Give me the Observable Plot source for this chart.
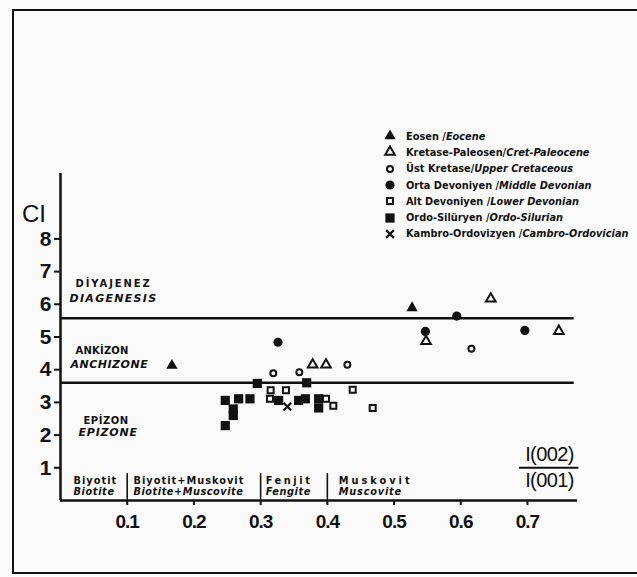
<!DOCTYPE html>
<html><head><meta charset="utf-8">
<script src="https://cdn.jsdelivr.net/npm/d3@7"></script>
<script src="https://cdn.jsdelivr.net/npm/@observablehq/plot@0.6"></script>
<style>
body{margin:0;background:#fafafa;}
#wrap{position:relative;width:637px;height:577px;overflow:hidden;background:#fafafa;}
#frame{position:absolute;left:12px;top:9px;width:640px;height:565px;border:2.5px solid #111;box-sizing:border-box;pointer-events:none}
#legend{position:absolute;left:383px;top:128px;font-family:"DejaVu Sans Condensed","DejaVu Sans",sans-serif;font-weight:bold;font-size:10.9px;color:#111;}
.row{height:16.3px;display:flex;align-items:center;white-space:nowrap}
.row svg{width:14px;height:14px;margin-right:9px;flex:none}
.row i{font-style:italic}
#ci{position:absolute;left:22px;top:200px;font-family:"Liberation Sans",sans-serif;font-size:24px;color:#111}
</style></head>
<body><div id="wrap"><div id="frame"></div><div id="ci">CI</div><div id="legend"></div></div>
<script>
// ---- data ----
const eocene      = [[0.167,4.13],[0.527,5.89]];
const cretPaleo   = [[0.378,4.15],[0.398,4.15],[0.645,6.17],[0.548,4.87],[0.747,5.18]];
const upperCret   = [[0.319,3.89],[0.358,3.92],[0.430,4.15],[0.616,4.64]];
const midDevon    = [[0.326,4.84],[0.594,5.64],[0.547,5.17],[0.696,5.20]];
const lowDevon    = [[0.315,3.37],[0.338,3.37],[0.314,3.11],[0.398,3.11],[0.409,2.90],[0.438,3.39],[0.468,2.83]];
const ordoSil     = [[0.295,3.58],[0.369,3.60],[0.247,3.06],[0.267,3.11],[0.284,3.11],[0.259,2.80],[0.259,2.60],[0.247,2.29],[0.327,3.06],[0.357,3.06],[0.367,3.11],[0.387,3.11],[0.387,2.83]];
const cambroOrd   = [[0.340,2.87]];
const legendTR = ["Eosen ","Kretase-Paleosen","Üst Kretase","Orta Devoniyen ","Alt Devoniyen ","Ordo-Silüryen ","Kambro-Ordovizyen "];
const legendEN = ["Eocene","Cret-Paleocene","Upper Cretaceous","Middle Devonian","Lower Devonian","Ordo-Silurian","Cambro-Ordovician"];
const boundaries = [5.57, 3.6];
const zoneTR = ["DİYAJENEZ","ANKİZON","EPİZON"];
const zoneEN = ["DIAGENESIS","ANCHIZONE","EPIZONE"];
const mineralStart = [0, 0.1, 0.3, 0.4];
const mineralTR = ["Biyotit","Biyotit+Muskovit","Fenjit","Muskovit"];
const mineralEN = ["Biotite","Biotite+Muscovite","Fengite","Muscovite"];
const xTicks = [0.1,0.2,0.3,0.4,0.5,0.6,0.7];
const yTicks = [1,2,3,4,5,6,7,8];
const xNum = "I(002)", xDen = "I(001)";

// ---- series styles ----
const ink = "#111";
const series = [
  {d:eocene,    symbol:"triangle", fill:ink,    stroke:"none", r:4.2, sw:0},
  {d:cretPaleo, symbol:"triangle", fill:"#fafafa", stroke:ink, r:3.6, sw:2},
  {d:upperCret, symbol:"circle",   fill:"#fafafa", stroke:ink, r:3.0, sw:2},
  {d:midDevon,  symbol:"circle",   fill:ink,    stroke:"none", r:4.6, sw:0},
  {d:lowDevon,  symbol:"square",   fill:"#fafafa", stroke:ink, r:3.4, sw:2},
  {d:ordoSil,   symbol:"square",   fill:ink,    stroke:"none", r:5.2, sw:0},
  {d:cambroOrd, symbol:"times",    fill:"none", stroke:ink, r:3.6, sw:2.2}
];

const zoneY = [[6.64,6.18],[4.59,4.16],[2.45,2.08]];
const zoneX = [[0.0225,0.0135],[0.0225,0.015],[0.0345,0.027]];
const minOff = [0.0195,0.0095,0.0075,0.017];
// letter spacing applied after render (by text content)
const spacing = new Map([
  ["DİYAJENEZ",1.9],["ANKİZON",0.2],["EPİZON",0.5],
  ["DIAGENESIS",1.3],["ANCHIZONE",0.5],["EPIZONE",0.8],
  ["Biyotit",1.0],["Biyotit+Muskovit",1.0],["Fenjit",2.6],["Muskovit",3.0],
  ["Biotite",0.6],["Biotite+Muscovite",0.5],["Fengite",0.6],["Muscovite",0.8],
  ["I(002)",-0.6],["I(001)",-0.6]
]);

const chart = Plot.plot({
  width:637, height:577,
  marginLeft:60, marginRight:60, marginTop:173, marginBottom:77,
  x:{domain:[0,0.775]}, y:{domain:[0,10]},
  style:{background:"transparent", fontFamily:"Liberation Sans, sans-serif", color:ink, overflow:"visible"},
  marks:[
    Plot.ruleY(boundaries,{x1:0,x2:0.77,stroke:ink,strokeWidth:2.5}),
    Plot.ruleX(mineralStart.slice(1),{y1:0,y2:0.82,stroke:ink,strokeWidth:1.6}),
    Plot.ruleX([0],{y1:0,y2:10,stroke:ink,strokeWidth:2.5}),
    Plot.ruleY([0],{x1:0,x2:0.775,stroke:ink,strokeWidth:2.5}),
    Plot.axisY({ticks:yTicks, tickSize:6, tickPadding:3, fontSize:21, fontWeight:"bold", label:null, tickFormat:d=>String(d), strokeWidth:2}),
    Plot.axisX({ticks:xTicks, tickSize:5, tickPadding:9, fontSize:19, fontWeight:"bold", label:null, tickFormat:d=>d.toFixed(1), strokeWidth:2}),
    ...series.map(s=>Plot.dot(s.d,{x:d=>d[0],y:d=>d[1],symbol:s.symbol,fill:s.fill,stroke:s.stroke,strokeWidth:s.sw,r:s.r})),
    Plot.text(zoneTR,{x:(d,i)=>zoneX[i][0], y:(d,i)=>zoneY[i][0], text:d=>d, textAnchor:"start", fontSize:10, fontWeight:"bold", fontFamily:"DejaVu Sans", fill:ink}),
    Plot.text(zoneEN,{x:(d,i)=>zoneX[i][1], y:(d,i)=>zoneY[i][1], text:d=>d, textAnchor:"start", fontSize:11, fontWeight:"bold", fontStyle:"italic", fontFamily:"DejaVu Sans", fill:ink}),
    Plot.text(mineralTR,{x:(d,i)=>mineralStart[i]+minOff[i], y:0.61, text:d=>d, textAnchor:"start", fontSize:9.8, fontWeight:"bold", fontFamily:"DejaVu Sans", fill:ink}),
    Plot.text(mineralEN,{x:(d,i)=>mineralStart[i]+minOff[i], y:0.25, text:d=>d, textAnchor:"start", fontSize:9.8, fontWeight:"bold", fontStyle:"italic", fontFamily:"DejaVu Sans", fill:ink}),
    Plot.text([xNum],{x:0.733, y:1.39, text:d=>d, fontSize:20, fontFamily:"Liberation Sans", fill:ink}),
    Plot.ruleY([1.0],{x1:0.688,x2:0.777,stroke:ink,strokeWidth:2}),
    Plot.text([xDen],{x:0.733, y:0.6, text:d=>d, fontSize:20, fontFamily:"Liberation Sans", fill:ink})
  ]
});
d3.select(chart).selectAll("text").each(function(){
  const t = this.textContent;
  if (spacing.has(t)) this.style.letterSpacing = spacing.get(t)+"px";
  if (/^0\.\d$/.test(t)) this.style.letterSpacing = "-1px";
});
document.getElementById("wrap").prepend(chart);

// ---- legend ----
const lg = d3.select("#legend");
const symMap = {triangle:d3.symbolTriangle, circle:d3.symbolCircle, square:d3.symbolSquare, times:d3.symbolTimes};
series.forEach((s,i)=>{
  const row = lg.append("div").attr("class","row");
  const svg = row.append("svg").attr("viewBox","-7 -7 14 14");
  svg.append("path").attr("d", d3.symbol(symMap[s.symbol], Math.PI*s.r*s.r)())
    .attr("fill", s.fill).attr("stroke", s.stroke==="none"?null:s.stroke).attr("stroke-width", s.sw);
  row.append("span").text(legendTR[i]+"/");
  row.append("i").text(legendEN[i]);
});
</script></body></html>
